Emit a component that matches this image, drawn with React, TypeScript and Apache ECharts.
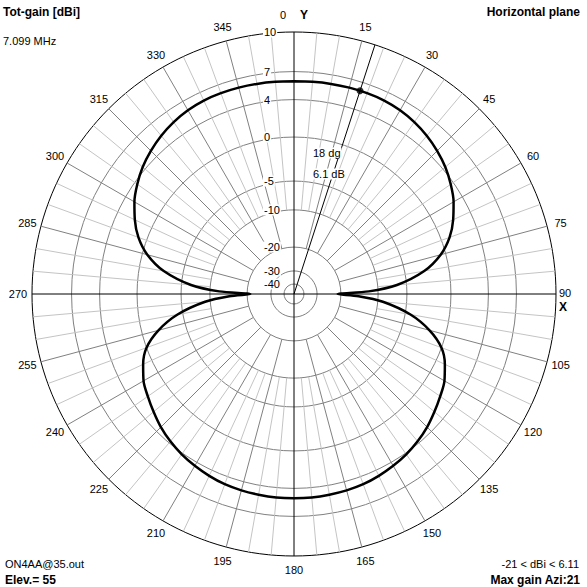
import React, { useEffect, useRef } from 'react';
import * as echarts from 'echarts';

// ---------- texts ----------
const TITLE_LEFT = 'Tot-gain [dBi]';
const FREQ_TEXT = '7.099 MHz';
const TITLE_RIGHT = 'Horizontal plane';
const FILE_TEXT = 'ON4AA@35.out';
const ELEV_TEXT = 'Elev.= 55';
const RANGE_TEXT = '-21 < dBi < 6.11';
const MAXGAIN_TEXT = 'Max gain Azi:21';

// ---------- radial scale (dBi rings and their relative radius) ----------
const RING_DB = [10, 7, 4, 0, -5, -10, -20, -30, -40];
const RING_FRAC = [1, 0.849, 0.742, 0.599, 0.431, 0.321, 0.179, 0.088, 0.038];

// ---------- angle ticks ----------
const ANGLE_TICKS = [0, 15, 30, 45, 60, 75, 90, 105, 120, 135, 150, 165, 180, 195, 210, 225, 240, 255, 270, 285, 300, 315, 330, 345];

// ---------- pattern, right half (azimuth deg -> gain dBi) ----------
const FRONT_AZ = [0, 5, 10, 15, 20, 25, 30, 35, 40, 45, 50, 55, 60, 65, 70, 75, 80, 85, 88, 90];
const FRONT_DB = [6.0, 6.03, 6.07, 6.1, 6.11, 6.08, 5.95, 5.7, 5.35, 4.9, 4.35, 3.7, 3.0, 2.1, 1.0, -0.5, -2.6, -6.5, -12, -21];
const BACK_AZ = [92, 95, 100, 105, 110, 115, 120, 125, 130, 135, 140, 145, 150, 155, 160, 165, 170, 175, 180];
const BACK_DB = [-14.5, -9, -4.3, -1.7, 0.0, 1.1, 1.9, 2.4, 2.9, 3.4, 3.8, 4.15, 4.45, 4.7, 4.9, 5.0, 5.05, 5.1, 5.1];

// ---------- marker ----------
const MARKER_AZ = 18;
const MARKER_DB = 6.1;

const FONT = '"Liberation Sans", Arial, sans-serif';

function dbToFrac(db: number): number {
  if (db >= RING_DB[0]) return 1;
  for (let i = 0; i < RING_DB.length - 1; i++) {
    const a = RING_DB[i];
    const b = RING_DB[i + 1];
    if (db <= a && db >= b) {
      const t = (a - db) / (a - b);
      const la = Math.log(RING_FRAC[i]);
      const lb = Math.log(RING_FRAC[i + 1]);
      return Math.exp(la + t * (lb - la));
    }
  }
  return RING_FRAC[RING_FRAC.length - 1];
}

export default function App() {
  const ref = useRef<HTMLDivElement>(null);

  useEffect(() => {
    if (!ref.current) return;
    const chart = echarts.init(ref.current, null, { renderer: 'svg' });

    // full curve 0..360
    const halfAz = [...FRONT_AZ, ...BACK_AZ];
    const halfDb = [...FRONT_DB, ...BACK_DB];
    const curve: number[][] = [];
    for (let i = 0; i < halfAz.length; i++) curve.push([dbToFrac(halfDb[i]), halfAz[i]]);
    for (let i = halfAz.length - 2; i >= 0; i--) curve.push([dbToFrac(halfDb[i]), 360 - halfAz[i]]);

    // spokes
    const ringM20 = RING_FRAC[RING_DB.indexOf(-20)];
    const ringM10 = RING_FRAC[RING_DB.indexOf(-10)];
    const majorSpokes: number[][] = [];
    const minorSpokes: number[][] = [];
    for (let a = 0; a < 360; a += 5) {
      if (a % 90 === 0) continue;
      if (a % 15 === 0) majorSpokes.push([ringM20, a]);
      else minorSpokes.push([ringM10, a]);
    }

    const spokeRender = (color: string) => (params: any, api: any) => {
      const r0 = api.value(0);
      const a = api.value(1);
      const p0 = api.coord([r0, a]);
      const p1 = api.coord([1, a]);
      return {
        type: 'line',
        shape: { x1: p0[0], y1: p0[1], x2: p1[0], y2: p1[1] },
        style: { stroke: color, lineWidth: 1 },
      };
    };

    const LABEL_R = 276 / 262;
    const txt = (text: string, x: number, y: number, bold = false, align = 'center') => ({
      type: 'text',
      style: {
        text, x, y, align, verticalAlign: 'middle', fill: '#000',
        font: `${bold ? 'bold 12px' : '11px'} ${FONT}`,
      },
    });

    const option: any = {
      animation: false,
      backgroundColor: '#ffffff',
      polar: { center: [294, 294], radius: 262 },
      angleAxis: {
        type: 'value', min: 0, max: 360, interval: 15, startAngle: 90, clockwise: true,
        axisLine: { show: true, lineStyle: { color: '#000', width: 1 } },
        axisTick: { show: false }, axisLabel: { show: false }, splitLine: { show: false },
      },
      radiusAxis: {
        type: 'value', min: 0, max: 1,
        axisLine: { show: false }, axisTick: { show: false }, axisLabel: { show: false }, splitLine: { show: false },
      },
      graphic: [
        { ...txt(TITLE_LEFT, 3, 12, true, 'left'), z: 10 },
        { ...txt(FREQ_TEXT, 3, 41, false, 'left'), z: 10 },
        { ...txt(TITLE_RIGHT, 580, 12, true, 'right'), z: 10 },
        { ...txt(FILE_TEXT, 5, 564, false, 'left'), z: 10 },
        { ...txt(ELEV_TEXT, 5, 580, true, 'left'), z: 10 },
        { ...txt(RANGE_TEXT, 579, 564, false, 'right'), z: 10 },
        { ...txt(MAXGAIN_TEXT, 580, 580, true, 'right'), z: 10 },
        {
          type: 'text', z: 10,
          style: { text: `${MARKER_AZ} dg`, x: 312, y: 153, align: 'left', verticalAlign: 'middle', fill: '#000', font: `11px ${FONT}`, backgroundColor: '#fff', padding: [0, 1] },
        },
        {
          type: 'text', z: 10,
          style: { text: `${MARKER_DB} dB`, x: 312, y: 174, align: 'left', verticalAlign: 'middle', fill: '#000', font: `11px ${FONT}`, backgroundColor: '#fff', padding: [0, 1] },
        },
      ],
      series: [
        // rings
        {
          type: 'custom', coordinateSystem: 'polar', z: 1, silent: true, clip: false,
          data: RING_DB.slice(1).map((db, i) => [RING_FRAC[i + 1], 0]),
          renderItem: (params: any, api: any) => {
            const c = api.coord([0, 0]);
            const p = api.coord([api.value(0), 0]);
            const r = Math.hypot(p[0] - c[0], p[1] - c[1]);
            return { type: 'circle', shape: { cx: c[0], cy: c[1], r }, style: { fill: 'none', stroke: '#808080', lineWidth: 1 } };
          },
        },
        // minor spokes
        { type: 'custom', coordinateSystem: 'polar', z: 1, silent: true, clip: false, data: minorSpokes, renderItem: spokeRender('#c4c4c4') },
        // major spokes
        { type: 'custom', coordinateSystem: 'polar', z: 2, silent: true, clip: false, data: majorSpokes, renderItem: spokeRender('#808080') },
        // axes
        {
          type: 'custom', coordinateSystem: 'polar', z: 3, silent: true, clip: false,
          data: [[1, 0], [1, 90]],
          renderItem: (params: any, api: any) => {
            const a = api.value(1);
            const p0 = api.coord([1, a]);
            const p1 = api.coord([1, a + 180]);
            return { type: 'line', shape: { x1: p0[0], y1: p0[1], x2: p1[0], y2: p1[1] }, style: { stroke: '#000', lineWidth: 1 } };
          },
        },
        // gain curve
        {
          type: 'line', coordinateSystem: 'polar', z: 4, silent: true,
          data: curve, showSymbol: false, smooth: 0.3,
          lineStyle: { color: '#000', width: 2.5 },
        },
        // marker line
        {
          type: 'line', coordinateSystem: 'polar', z: 5, silent: true,
          data: [[0, MARKER_AZ], [1, MARKER_AZ]], showSymbol: false,
          lineStyle: { color: '#000', width: 1 },
        },
        // marker dot
        {
          type: 'scatter', coordinateSystem: 'polar', z: 6, silent: true,
          data: [[dbToFrac(MARKER_DB), MARKER_AZ]], symbol: 'circle', symbolSize: 7,
          itemStyle: { color: '#000' },
        },
        // ring labels
        {
          type: 'custom', coordinateSystem: 'polar', z: 8, silent: true, clip: false,
          data: RING_DB.map((db, i) => [RING_FRAC[i], 0, db]),
          renderItem: (params: any, api: any) => {
            const p = api.coord([api.value(0), 0]);
            return {
              type: 'text',
              style: {
                text: String(api.value(2)), x: p[0] - 31, y: p[1], align: 'left', verticalAlign: 'middle',
                fill: '#000', font: `11px ${FONT}`, backgroundColor: '#fff', padding: [0, 1],
              },
            };
          },
        },
        // angle labels
        {
          type: 'custom', coordinateSystem: 'polar', z: 8, silent: true, clip: false,
          data: ANGLE_TICKS.map((a) => [1, a]),
          renderItem: (params: any, api: any) => {
            const a = api.value(1);
            const p = api.coord([LABEL_R, a]);
            if (a === 0) {
              return {
                type: 'group',
                children: [txt('0', p[0] - 11, p[1] - 3), txt('Y', p[0] + 10, p[1] - 3, true)],
              };
            }
            if (a === 90) {
              return {
                type: 'group',
                children: [txt('90', p[0] - 5, p[1] - 1), txt('X', p[0] - 7, p[1] + 13, true)],
              };
            }
            return txt(String(a), p[0], p[1]);
          },
        },
      ],
    };

    chart.setOption(option);
    return () => chart.dispose();
  }, []);

  return (
    <div
      ref={ref}
      style={{ position: 'absolute', left: 0, top: 0, width: 587, height: 587, background: '#fff' }}
    />
  );
}
